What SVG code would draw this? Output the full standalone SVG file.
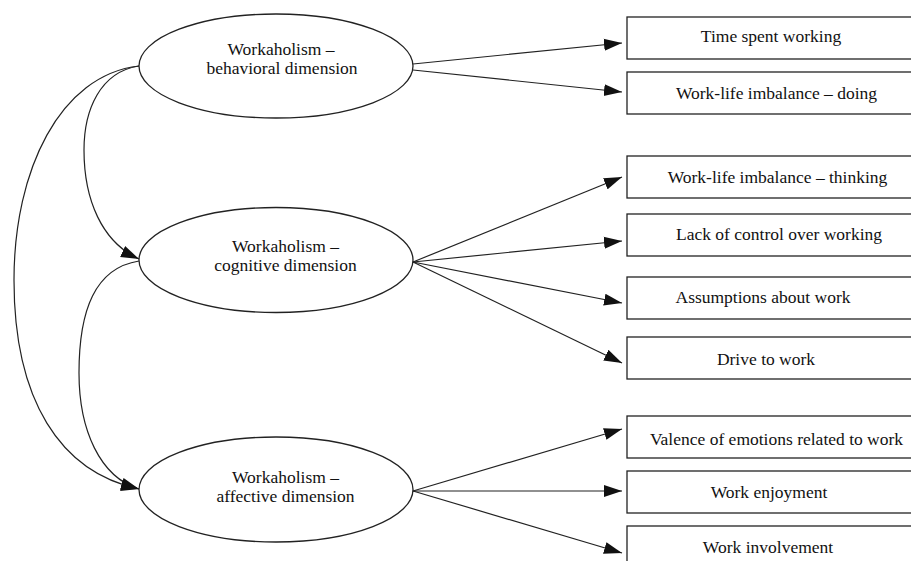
<svg xmlns="http://www.w3.org/2000/svg" width="911" height="561" viewBox="0 0 911 561">
<defs>
<marker id="ah" markerUnits="userSpaceOnUse" markerWidth="19" markerHeight="13" refX="18" refY="6.5" orient="auto">
<path d="M0,0.5 L18,6.5 L0,12.5 z" fill="#111"/>
</marker>
<style>
.n ellipse, .n rect { fill: #fff; stroke: #222; stroke-width: 1.3; }
.n text { font-family: 'Liberation Serif', 'Times New Roman', Times, serif; font-size: 17.5px; fill: #111; text-anchor: middle; }
#edges path { fill: none; stroke: #222; stroke-width: 1.2; marker-end: url(#ah); }
</style>
</defs>
<rect width="911" height="561" fill="#fff"/>
<g id="edges">
<path d="M413,64 L622,43"/>
<path d="M413,70 L622,92"/>
<path d="M413,262 L622,177"/>
<path d="M413,262 L622,241"/>
<path d="M413,262 L622,303"/>
<path d="M413,262 L622,363"/>
<path d="M413,491 L622,429"/>
<path d="M413,491 L622,491"/>
<path d="M413,491 L622,553"/>
<path d="M139,66 C100,72 84,110 84,150 C84,200 102,242 139,259"/>
<path d="M139,66 C60,75 14,170 14,280 C14,400 60,472 139,489"/>
<path d="M139,261 C95,268 79,310 79,373 C79,430 100,477 139,489"/>
</g>
<g id="behavioral" class="n">
<ellipse cx="276" cy="66" rx="137" ry="52"/>
<text x="281" y="54.5">Workaholism –</text>
<text x="282" y="73.5">behavioral dimension</text>
</g>
<g id="cognitive" class="n">
<ellipse cx="276" cy="260" rx="137" ry="52.5"/>
<text x="285.5" y="252">Workaholism –</text>
<text x="285.5" y="271">cognitive dimension</text>
</g>
<g id="affective" class="n">
<ellipse cx="276" cy="489.5" rx="137" ry="52.5"/>
<text x="285.5" y="483">Workaholism –</text>
<text x="285.5" y="502">affective dimension</text>
</g>
<g id="time-spent" class="n">
<rect x="627" y="17" width="300" height="42"/>
<text x="771" y="42">Time spent working</text>
</g>
<g id="wli-doing" class="n">
<rect x="627" y="72" width="300" height="42"/>
<text x="776.5" y="99">Work-life imbalance – doing</text>
</g>
<g id="wli-thinking" class="n">
<rect x="627" y="156" width="300" height="42"/>
<text x="777.5" y="183">Work-life imbalance – thinking</text>
</g>
<g id="lack-control" class="n">
<rect x="627" y="214" width="300" height="42"/>
<text x="779" y="240">Lack of control over working</text>
</g>
<g id="assumptions" class="n">
<rect x="627" y="277" width="300" height="42"/>
<text x="763" y="303">Assumptions about work</text>
</g>
<g id="drive" class="n">
<rect x="627" y="337" width="300" height="42"/>
<text x="766" y="365">Drive to work</text>
</g>
<g id="valence" class="n">
<rect x="627" y="416" width="300" height="42"/>
<text x="776.5" y="445">Valence of emotions related to work</text>
</g>
<g id="enjoyment" class="n">
<rect x="627" y="471" width="300" height="42"/>
<text x="769" y="498">Work enjoyment</text>
</g>
<g id="involvement" class="n">
<rect x="627" y="526" width="300" height="60"/>
<text x="768" y="553">Work involvement</text>
</g>
</svg>
